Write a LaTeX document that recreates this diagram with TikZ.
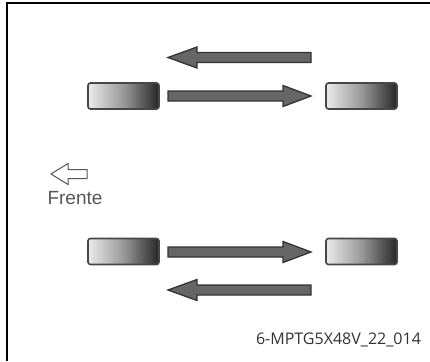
\documentclass[tikz,border=0pt]{standalone}
\usepackage{fontspec}
\setmainfont{Open Sans}
\newfontfamily\arialfont{Liberation Sans}
\usetikzlibrary{positioning}

\definecolor{arrgray}{HTML}{666666}
\definecolor{edgegray}{HTML}{333333}
\definecolor{txtgray}{HTML}{555555}

\begin{document}
\begin{tikzpicture}[x=1pt, y=-1pt,
  wheel/.style={draw=edgegray!90, line width=1.6pt, rounded corners=2.5pt, minimum width=71pt, minimum height=26pt, inner sep=0pt,
    left color=white!92!black, right color=black!85, middle color=black!40, shading angle=90},
  blk/.style={fill=arrgray, draw=edgegray, line width=1.3pt, line join=miter},
  hollow/.style={fill=white, draw=txtgray, line width=1pt}]
\useasboundingbox (0,0) rectangle (430,361);
\draw[line width=1.3pt] (7,361) -- (7,3) -- (430,3);
% wheels
\node[wheel] (fl) at (123.5,96) {};
\node[wheel] (fr) at (361.5,96) {};
\node[wheel] (rl) at (123.5,251.5) {};
\node[wheel] (rr) at (361.5,251.5) {};
% arrows pointing right
\foreach \c in {96,252} { \draw[blk] (168,\c-5) -- (283,\c-5) -- (283,\c-10.5) -- (311,\c) -- (283,\c+10.5) -- (283,\c+5) -- (168,\c+5) -- cycle; }
% arrows pointing left
\foreach \c in {57.5,290} { \draw[blk] (311,\c-5) -- (197,\c-5) -- (197,\c-10.5) -- (168,\c) -- (197,\c+10.5) -- (197,\c+5) -- (311,\c+5) -- cycle; }
% direction of travel
\draw[hollow] (87,169.5) -- (68,169.5) -- (68,163.5) -- (51,174) -- (68,184.5) -- (68,178.5) -- (87,178.5) -- cycle;
\node[txtgray, font=\arialfont\fontsize{19}{22}\selectfont] (frente) at (75,198) {Frente};
\node[edgegray, font=\fontsize{16}{19}\selectfont] (ref) at (338.5,340) {6-MPTG5X48V\_22\_014};
\end{tikzpicture}
\end{document}
